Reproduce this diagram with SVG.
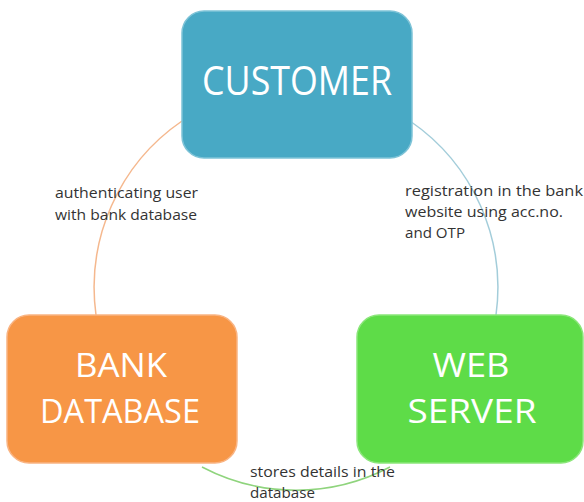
<svg xmlns="http://www.w3.org/2000/svg" width="584" height="502" viewBox="0 0 584 502">
<style>
.box{stroke-width:1.5}
.title{font-family:"Open Sans","Liberation Sans",sans-serif;fill:#ffffff;text-anchor:middle}
.lbl{font-family:"Open Sans","Liberation Sans",sans-serif;fill:#333333;font-size:14px}
.arc{fill:none;stroke-width:1.5}
</style>
<rect width="584" height="502" fill="#ffffff"/>
<g id="connectors">
<path class="arc" d="M182,121 A202,202 0 0 0 96,315" stroke="#F5B88E"/>
<path class="arc" d="M410,121 A202,202 0 0 1 496,315" stroke="#A3CDDA"/>
<path class="arc" d="M202,467 A202,202 0 0 0 390,467" stroke="#8FD47D"/>
</g>
<g id="customer">
<rect class="box" x="182" y="11" width="230" height="147" rx="22" fill="#48A9C5" stroke="#7EC3D7"/>
<text class="title" x="297" y="95" font-size="40" textLength="190" lengthAdjust="spacingAndGlyphs">CUSTOMER</text>
</g>
<g id="bank-database">
<rect class="box" x="7" y="315" width="230" height="148" rx="22" fill="#F79646" stroke="#F9B483"/>
<text class="title" x="121" y="377" font-size="33.5" textLength="92" lengthAdjust="spacingAndGlyphs">BANK</text>
<text class="title" x="120" y="423" font-size="33.5" textLength="160" lengthAdjust="spacingAndGlyphs">DATABASE</text>
</g>
<g id="web-server">
<rect class="box" x="357" y="315" width="226" height="148" rx="22" fill="#5EDC48" stroke="#8BE67A"/>
<text class="title" x="471" y="377" font-size="33.5" textLength="77" lengthAdjust="spacingAndGlyphs">WEB</text>
<text class="title" x="472" y="423" font-size="33.5" textLength="129" lengthAdjust="spacingAndGlyphs">SERVER</text>
</g>
<g id="labels">
<text class="lbl" x="55" y="198" textLength="143" lengthAdjust="spacingAndGlyphs">authenticating user</text>
<text class="lbl" x="55" y="220" textLength="142" lengthAdjust="spacingAndGlyphs">with bank database</text>
<text class="lbl" x="405" y="196" textLength="178" lengthAdjust="spacingAndGlyphs">registration in the bank</text>
<text class="lbl" x="405" y="217" textLength="158" lengthAdjust="spacingAndGlyphs">website using acc.no.</text>
<text class="lbl" x="405" y="238" textLength="60" lengthAdjust="spacingAndGlyphs">and OTP</text>
<text class="lbl" x="250" y="477" textLength="145" lengthAdjust="spacingAndGlyphs">stores details in the</text>
<text class="lbl" x="250" y="498" textLength="65" lengthAdjust="spacingAndGlyphs">database</text>
</g>
</svg>
